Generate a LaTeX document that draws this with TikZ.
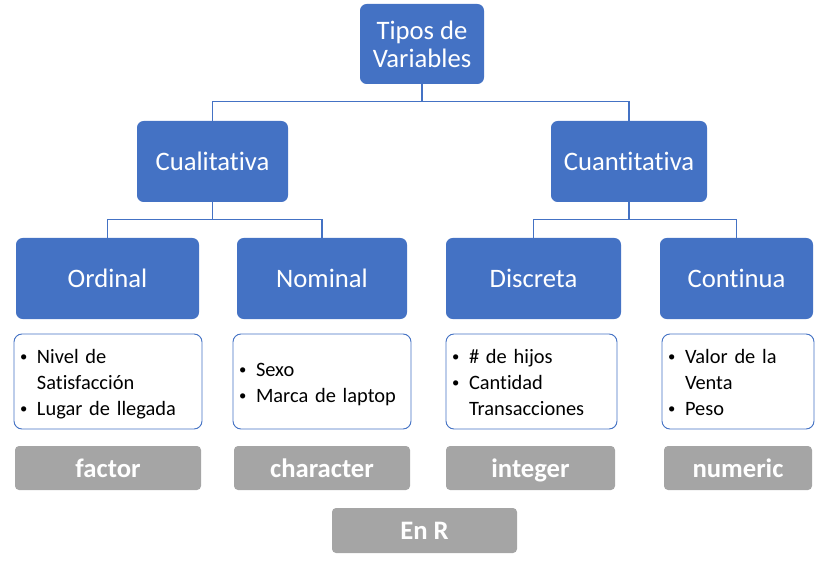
\documentclass[tikz,border=0pt]{standalone}
\usepackage{fontspec}
\setmainfont{Carlito}[Ligatures={NoCommon}]
\definecolor{boxblue}{HTML}{4472C4}
\definecolor{boxgray}{HTML}{A5A5A5}
\newcommand{\listbullet}{\makebox[12.75pt][l]{\raisebox{1.6pt}{\fontsize{11}{11}\selectfont\textbullet}}}
\tikzset{
    catbox/.style={fill=boxblue, rounded corners=5pt, text=white, align=center, inner sep=0pt, minimum height=60.75pt, font=\fontsize{20}{21}\selectfont},
    listbox/.style={draw=boxblue, fill=white, line width=0.7pt, rounded corners=6pt, inner xsep=4.5pt, inner ysep=0pt, minimum height=71.25pt, align=left, font=\fontsize{15.3}{19.5}\selectfont, execute at begin node={\vspace*{-4.5pt}}},
    typebox/.style={fill=boxgray, rounded corners=3pt, text=white, inner sep=0pt, minimum height=33pt, text height=15.5pt, text depth=2pt, font=\fontsize{20}{24}\selectfont\bfseries},
    conn/.style={draw=boxblue, line width=0.9pt},
}
\begin{document}
\begin{tikzpicture}[x=0.75pt, y=-0.75pt]
    \useasboundingbox (0,0) rectangle (828,570);

    % Blue category boxes
    \node[catbox, minimum width=93pt, minimum height=60pt] (tipos) at (422,44) {Tipos de\\Variables};
    \node[catbox, minimum width=113.25pt] (cuali) at (212.5,161.5) {Cualitativa};
    \node[catbox, minimum width=117pt] (cuanti) at (629,161.5) {Cuantitativa};
    \foreach \name/\x/\w/\label in {ordinal/107.5/137.25/Ordinal, nominal/322/127.5/Nominal, discreta/533.5/131.25/Discreta, continua/736.5/114.75/Continua} {
        \node[catbox, minimum width=\w pt] (\name) at (\x,278.5) {\label};
    }

    % Tree connectors
    \foreach \parent/\child in {tipos/cuali, tipos/cuanti, cuali/ordinal, cuali/nominal, cuanti/discreta, cuanti/continua} {
        \draw[conn] (\parent.south) |- ++(0,17) -| (\child.north);
    }

    % Example lists
    \node[listbox, text width=132pt] (ejordinal) at (108,381.5) {\noindent\begin{tabular}{@{}l@{}l@{}}
        \listbullet & Nivel de\\
        & Satisfacción\\
        \listbullet & Lugar de llegada
    \end{tabular}};
    \node[listbox, text width=124.5pt] (ejnominal) at (322,381.5) {\noindent\begin{tabular}{@{}l@{}l@{}}
        \listbullet & Sexo\\
        \listbullet & Marca de laptop
    \end{tabular}};
    \node[listbox, text width=119.25pt] (ejdiscreta) at (531.5,381.5) {\noindent\begin{tabular}{@{}l@{}l@{}}
        \listbullet & \# de hijos\\
        \listbullet & Cantidad\\
        & Transacciones
    \end{tabular}};
    \node[listbox, text width=105pt] (ejcontinua) at (738,381.5) {\noindent\begin{tabular}{@{}l@{}l@{}}
        \listbullet & Valor de la\\
        & Venta\\
        \listbullet & Peso
    \end{tabular}};

    % R types
    \foreach \name/\x/\w/\label in {factor/108/139.5/factor, character/322/132/character, integer/530.5/126.75/integer, numeric/738/111/numeric} {
        \node[typebox, minimum width=\w pt] (\name) at (\x,468) {\label};
    }
    \node[typebox, minimum width=138.75pt, minimum height=33.75pt] (enr) at (424.5,530.5) {En R};
\end{tikzpicture}
\end{document}
